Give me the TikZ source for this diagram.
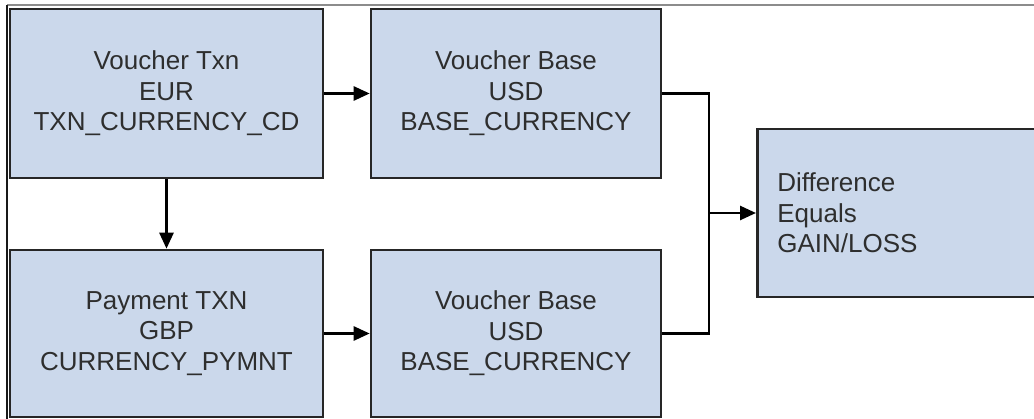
\documentclass[tikz,border=0pt]{standalone}
\usepackage{fontspec}
\setmainfont{Liberation Sans}
\usepackage{xcolor}
\usetikzlibrary{arrows.meta,calc,positioning}
\definecolor{boxfill}{HTML}{CBD8EB}
\definecolor{boxtext}{HTML}{2E2E2E}

\begin{document}
\begin{tikzpicture}[
      x=1pt, y=-1pt,
      acct/.style={draw=black!85, line width=2.6pt, fill=boxfill, align=center, text=boxtext, font=\fontsize{26}{30.5}\selectfont, inner sep=0pt},
      result/.style={acct, align=left, text width=300pt, inner xsep=20pt, minimum height=168pt},
      arr/.style={-{Triangle[length=16pt,width=14pt]}, line width=2.6pt},
      link/.style={line width=2.6pt}
  ]
    \useasboundingbox (0,0) rectangle (1034,419);
    \clip (0,0) rectangle (1034,419);
    % frame of the screenshot
    \draw[black!45, line width=1.4pt] (7,5) -- (1034,5);
    \draw[black!90, line width=1.2pt] (7,5) -- (7,419);

    % voucher row
    \node[acct, minimum width=313pt, minimum height=169pt] (vTxn) at (166.5,93.5) {Voucher Txn\\EUR\\TXN\_CURRENCY\_CD};
    \node[acct, minimum width=290pt, minimum height=169pt] (vBaseA) at (516,93.5) {Voucher Base\\USD\\BASE\_CURRENCY};

    % payment row
    \node[acct, minimum width=313pt, minimum height=167pt] (pTxn) at (166.5,333.5) {Payment TXN\\GBP\\CURRENCY\_PYMNT};
    \node[acct, minimum width=290pt, minimum height=167pt] (vBaseB) at (516,333.5) {Voucher Base\\USD\\BASE\_CURRENCY};

    % gain or loss
    \node[result, anchor=west] (diff) at (756,213) {Difference\\Equals\\GAIN/LOSS};
    \coordinate (join) at (709,213);

    \draw[arr] (vTxn) -- (vBaseA);
    \draw[arr] (vTxn) -- (pTxn);
    \draw[arr] (pTxn) -- (vBaseB);
    \draw[link] (vBaseA.east) -| (join);
    \draw[link] (vBaseB.east) -| (join);
    \draw[arr] (join) -- (diff.west);
  \end{tikzpicture}
\end{document}
